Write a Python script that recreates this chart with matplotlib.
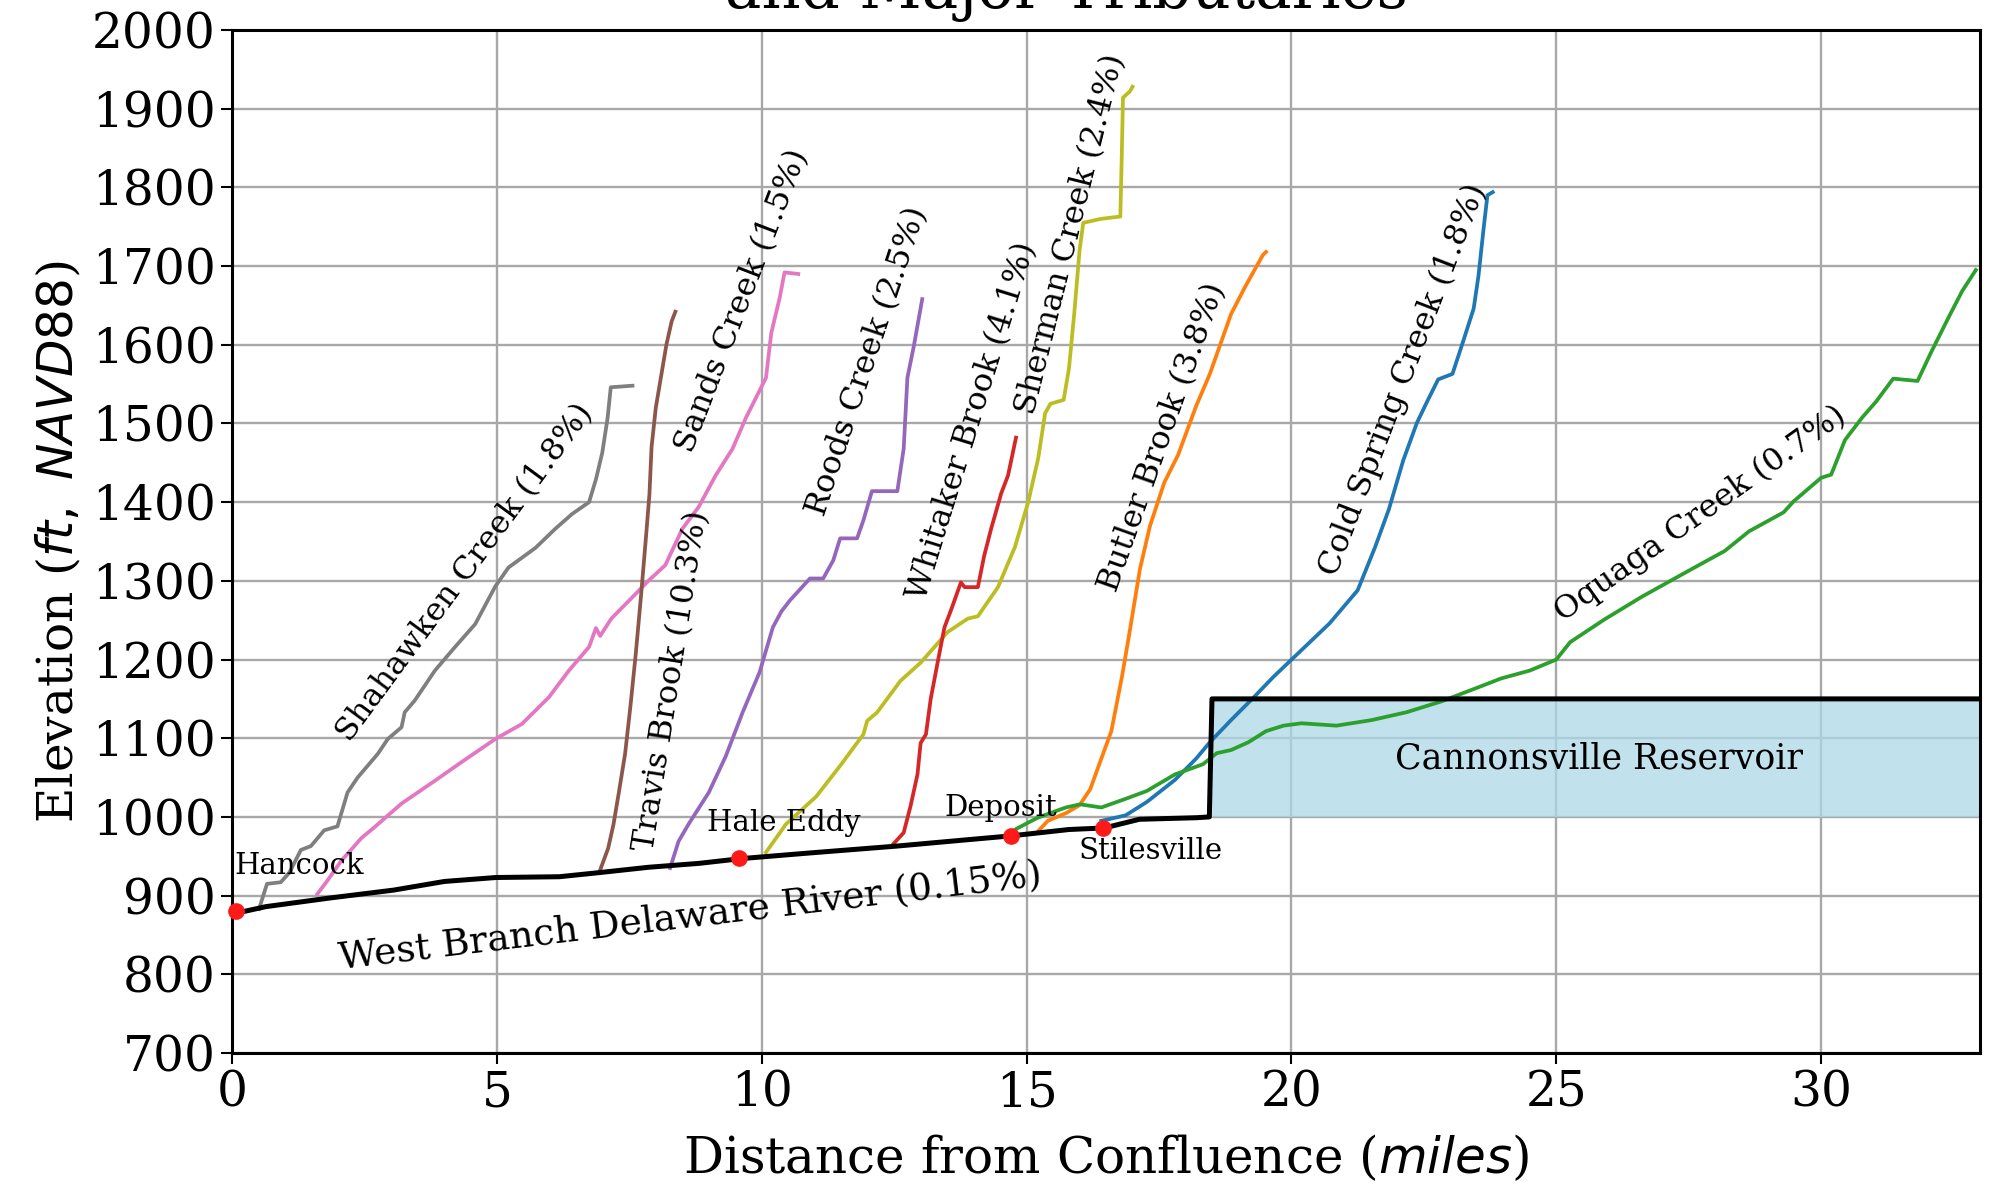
import matplotlib
matplotlib.use("Agg")
import matplotlib.pyplot as plt

plt.rcParams['font.family'] = ['DejaVu Serif']
plt.rcParams['mathtext.fontset'] = 'dejavusans'

# ---------------- data (miles, ft NAVD88) ----------------
river_x = [0.0, 0.1, 0.64, 1.85, 3.05, 4.01, 4.98, 6.18, 6.9, 7.86, 8.82, 9.61, 10.87,
           12.56, 13.88, 14.72, 15.8, 16.47, 17.13, 18.21, 18.45, 18.5, 33.0]
river_y = [878, 878, 886, 897, 907, 918, 923, 924, 929, 936, 941, 947, 954,
           963, 971, 976, 984, 986, 997, 999, 1000, 1150, 1150]

shahawken_x = [0.51, 0.66, 0.92, 1.08, 1.3, 1.49, 1.74, 1.99, 2.18, 2.37, 2.75, 2.94, 3.2,
               3.26, 3.45, 3.83, 4.21, 4.59, 4.97, 5.22, 5.73, 6.1, 6.42, 6.74, 6.87,
               6.99, 7.09, 7.15, 7.56]
shahawken_y = [883, 915, 917, 929, 958, 963, 983, 988, 1031, 1050, 1080, 1099, 1114,
               1133, 1148, 1186, 1216, 1245, 1293, 1317, 1342, 1366, 1385, 1400, 1429,
               1463, 1507, 1546, 1548]

sands_x = [1.61, 1.8, 2.06, 2.31, 2.44, 2.69, 3.2, 3.83, 4.34, 4.97, 5.47, 5.98, 6.36,
           6.74, 6.87, 6.95, 7.16, 7.54, 7.86, 8.18, 8.5, 8.81, 9.13, 9.45, 9.7, 10.08,
           10.18, 10.34, 10.43, 10.69]
sands_y = [902, 919, 944, 963, 973, 987, 1017, 1046, 1070, 1099, 1118, 1152, 1186,
           1216, 1240, 1230, 1252, 1278, 1300, 1320, 1366, 1394, 1434, 1468, 1507, 1558,
           1615, 1660, 1692, 1690]

travis_x = [6.93, 7.1, 7.2, 7.3, 7.42, 7.52, 7.62, 7.72, 7.82, 7.88, 7.92, 8.0, 8.1,
            8.2, 8.3, 8.37]
travis_y = [929, 960, 990, 1030, 1080, 1140, 1206, 1280, 1360, 1410, 1470, 1520, 1560,
            1600, 1630, 1642]

roods_x = [8.27, 8.43, 8.62, 9.0, 9.32, 9.64, 9.96, 10.21, 10.37, 10.53, 10.91, 11.16,
           11.35, 11.48, 11.8, 11.92, 12.08, 12.56, 12.68, 12.75, 12.87, 13.03]
roods_y = [935, 969, 991, 1031, 1077, 1133, 1184, 1241, 1261, 1275, 1303, 1303,
           1326, 1354, 1354, 1377, 1414, 1414, 1468, 1558, 1598, 1658]

sherman_x = [10.08, 10.46, 11.03, 11.48, 11.92, 11.99, 12.18, 12.62, 13.0, 13.51, 13.89,
             14.08, 14.46, 14.78, 15.03, 15.22, 15.35, 15.45, 15.7, 15.8, 15.9, 16.0,
             16.07, 16.4, 16.77, 16.8, 16.82, 16.95, 17.0]
sherman_y = [955, 991, 1026, 1065, 1105, 1122, 1133, 1173, 1196, 1235, 1252,
             1255, 1292, 1343, 1400, 1456, 1513, 1525, 1530, 1570, 1640, 1720,
             1755, 1760, 1763, 1850, 1914, 1922, 1928]

whitaker_x = [12.49, 12.68, 12.81, 12.94, 13.0, 13.1, 13.19, 13.32, 13.45, 13.58, 13.76,
              13.83, 14.08, 14.2, 14.33, 14.52, 14.65, 14.8]
whitaker_y = [966, 980, 1014, 1054, 1094, 1105, 1150, 1196, 1241, 1264, 1298,
              1292, 1292, 1332, 1366, 1411, 1434, 1482]

butler_x = [15.22, 15.4, 15.75, 16.0, 16.2, 16.34, 16.6, 16.8, 16.94, 17.14, 17.33, 17.6,
            17.86, 18.2, 18.46, 18.86, 19.12, 19.46, 19.52]
butler_y = [982, 995, 1005, 1015, 1035, 1061, 1109, 1178, 1233, 1315, 1370, 1425,
            1460, 1522, 1563, 1639, 1673, 1714, 1718]

coldspring_x = [16.41, 16.87, 17.27, 17.8, 18.2, 18.46, 18.86, 19.26, 19.66, 20.19, 20.72,
                21.25, 21.58, 21.84, 22.11, 22.37, 22.57, 22.77, 23.04, 23.24, 23.44,
                23.53, 23.63, 23.7, 23.8]
coldspring_y = [995, 1002, 1019, 1047, 1074, 1095, 1123, 1150, 1178, 1212, 1246,
                1288, 1343, 1391, 1453, 1501, 1529, 1556, 1563, 1604, 1646,
                1687, 1749, 1790, 1794]

oquaga_x = [14.68, 14.81, 15.21, 15.74, 16.01, 16.41, 16.87, 17.27, 17.8, 18.33, 18.59,
            18.86, 19.19, 19.52, 19.85, 20.19, 20.85, 21.51, 22.17, 22.84, 23.5, 23.96,
            24.5, 25.0, 25.26, 25.91, 26.62, 27.53, 28.18, 28.64, 29.29, 29.48, 30.0,
            30.19, 30.45, 30.78, 31.04, 31.36, 31.82, 32.08, 32.4, 32.66, 32.92]
oquaga_y = [978, 985, 999, 1012, 1016, 1012, 1023, 1033, 1054, 1067, 1081,
            1085, 1095, 1109, 1116, 1119, 1116, 1123, 1133, 1147, 1164, 1176,
            1186, 1200, 1222, 1251, 1280, 1314, 1338, 1363, 1387, 1401, 1431,
            1435, 1479, 1508, 1528, 1557, 1554, 1591, 1634, 1668, 1695]

towns = ["Hancock", "Hale Eddy", "Deposit", "Stilesville"]
town_x = [0.08, 9.58, 14.7, 16.45]
town_y = [880, 948, 976, 986]

reservoir_x = [18.5, 33.0]
reservoir_low = 1000
reservoir_high = 1150

tribs = [
    ("Shahawken Creek (1.8%)", shahawken_x, shahawken_y, "tab:gray"),
    ("Sands Creek (1.5%)", sands_x, sands_y, "tab:pink"),
    ("Travis Brook (10.3%)", travis_x, travis_y, "tab:brown"),
    ("Roods Creek (2.5%)", roods_x, roods_y, "tab:purple"),
    ("Sherman Creek (2.4%)", sherman_x, sherman_y, "tab:olive"),
    ("Whitaker Brook (4.1%)", whitaker_x, whitaker_y, "tab:red"),
    ("Butler Brook (3.8%)", butler_x, butler_y, "tab:orange"),
    ("Cold Spring Creek (1.8%)", coldspring_x, coldspring_y, "tab:blue"),
    ("Oquaga Creek (0.7%)", oquaga_x, oquaga_y, "tab:green"),
]

# label placements (x, y, rotation)
label_pos = {
    "Shahawken Creek (1.8%)": (4.4, 1310, 53.6),
    "Sands Creek (1.5%)": (9.62, 1656, 69),
    "Travis Brook (10.3%)": (8.3, 1173, 81),
    "Roods Creek (2.5%)": (12.0, 1579, 71.6),
    "Sherman Creek (2.4%)": (15.84, 1740, 76),
    "Whitaker Brook (4.1%)": (13.97, 1503, 72.8),
    "Butler Brook (3.8%)": (17.56, 1482, 70.5),
    "Cold Spring Creek (1.8%)": (22.1, 1556, 69),
    "Oquaga Creek (0.7%)": (27.73, 1385, 35.4),
}

fig = plt.figure(figsize=(19.9, 11.87), dpi=100)
ax = fig.add_axes([0.1166, 0.1129, 0.995 - 0.1166, 0.9747 - 0.1129])

ax.fill_between(reservoir_x, reservoir_low, reservoir_high, color="lightblue",
                alpha=0.75, lw=0, zorder=1)

for name, xs, ys, c in tribs:
    ax.plot(xs, ys, color=c, lw=2.7, zorder=3)
    lx, ly, rot = label_pos[name]
    ax.text(lx, ly, name, rotation=rot, ha="center", va="center", fontsize=23,
            rotation_mode="anchor", zorder=6)

ax.plot(river_x, river_y, color="black", lw=3.6, zorder=4)
ax.plot(town_x, town_y, "o", color="#ff1a1a", ms=11, zorder=5, clip_on=False)

ax.text(0.05, 937, "Hancock", fontsize=21, ha="left", va="center")
ax.text(8.97, 992, "Hale Eddy", fontsize=21, ha="left", va="center")
ax.text(13.45, 1011, "Deposit", fontsize=21, ha="left", va="center")
ax.text(15.98, 957, "Stilesville", fontsize=21, ha="left", va="center")
ax.text(8.66, 872, "West Branch Delaware River (0.15%)", fontsize=27, rotation=6.8,
        ha="center", va="center", rotation_mode="anchor")
ax.text(25.8, 1074, "Cannonsville Reservoir", fontsize=25, ha="center", va="center")

ax.set_xlim(0, 33)
ax.set_ylim(700, 2000)
ax.set_xticks([0, 5, 10, 15, 20, 25, 30])
ax.set_yticks(list(range(700, 2001, 100)))
ax.tick_params(axis="both", labelsize=35, length=8, width=1.5, direction="out")
ax.tick_params(axis="x", pad=4)
ax.grid(True, color="#a8a8a8", lw=1.7, zorder=0)
ax.set_axisbelow(True)
for s in ax.spines.values():
    s.set_linewidth(2.2)
    s.set_color("black")

ax.set_xlabel(r"Distance from Confluence ($miles$)", fontsize=36, labelpad=12)
ax.set_ylabel(r"Elevation ($ft,\ NAVD88$)", fontsize=35, labelpad=6)

fig.text(0.536, 0.993, "and Major Tributaries", ha="center", va="baseline", fontsize=44)

fig.savefig("out.png", dpi=100)
